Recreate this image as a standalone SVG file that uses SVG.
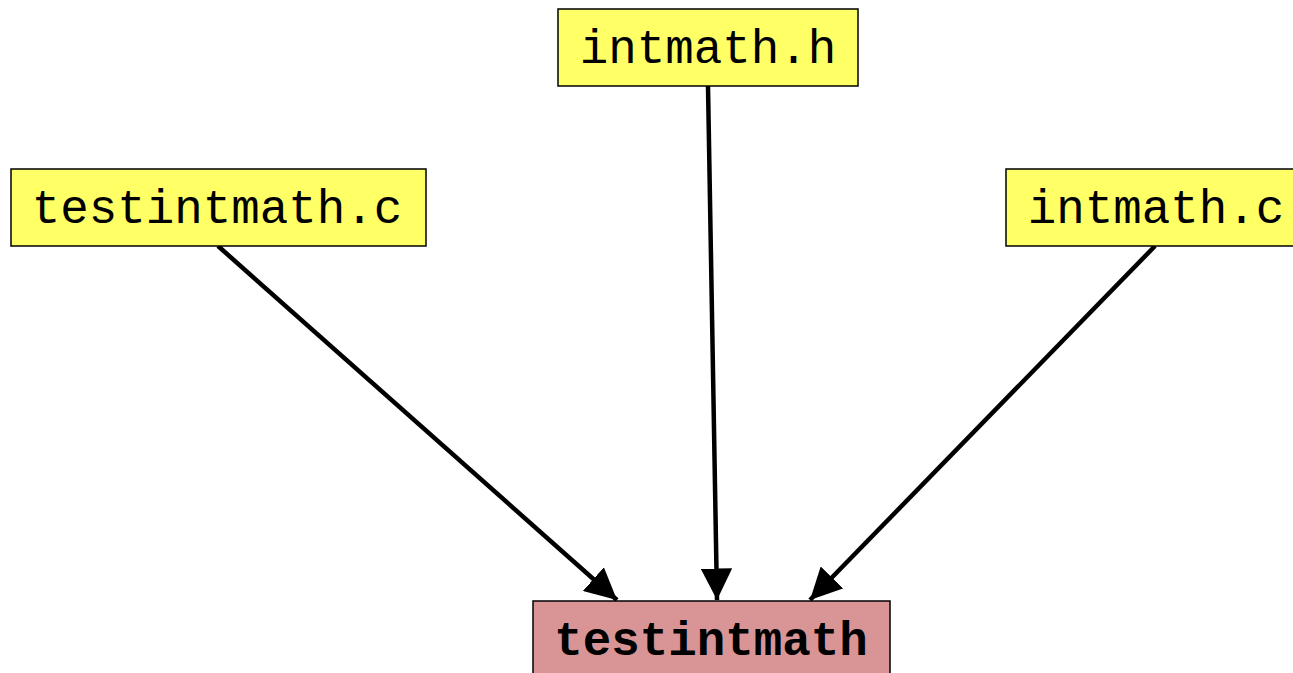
<svg xmlns="http://www.w3.org/2000/svg" width="1293" height="673" viewBox="0 0 1293 673">
<style>
.src rect{fill:#ffff66;stroke:#000;stroke-width:1.5}
.tgt rect{fill:#d99595;stroke:#000;stroke-width:1.5}
text{font-family:"Liberation Mono","Courier New",monospace;font-size:47.5px;fill:#000;text-anchor:middle}
.src text{font-weight:normal}
.tgt text{font-weight:bold}
.edges line{stroke:#000;stroke-width:4.5}
</style>
<defs>
<marker id="ah" viewBox="0 0 10 10" refX="10" refY="5" markerWidth="7" markerHeight="7" markerUnits="strokeWidth" orient="auto">
<path d="M0,0 L10,5 L0,10 z" fill="#000"/>
</marker>
</defs>
<rect width="1293" height="673" fill="#fff"/>
<g class="edges">
<line x1="218" y1="246" x2="617" y2="600" marker-end="url(#ah)"/>
<line x1="708" y1="86" x2="717" y2="600" marker-end="url(#ah)"/>
<line x1="1155" y1="246" x2="810" y2="600" marker-end="url(#ah)"/>
</g>
<g id="intmath_h" class="src"><rect x="558" y="9" width="300" height="77"/><text x="708" y="63">intmath.h</text></g>
<g id="testintmath_c" class="src"><rect x="11" y="169" width="415" height="77"/><text x="217" y="223">testintmath.c</text></g>
<g id="intmath_c" class="src"><rect x="1006" y="169" width="300" height="77"/><text x="1156" y="223">intmath.c</text></g>
<g id="testintmath" class="tgt"><rect x="533" y="601" width="357" height="90"/><text x="711" y="655">testintmath</text></g>
</svg>
